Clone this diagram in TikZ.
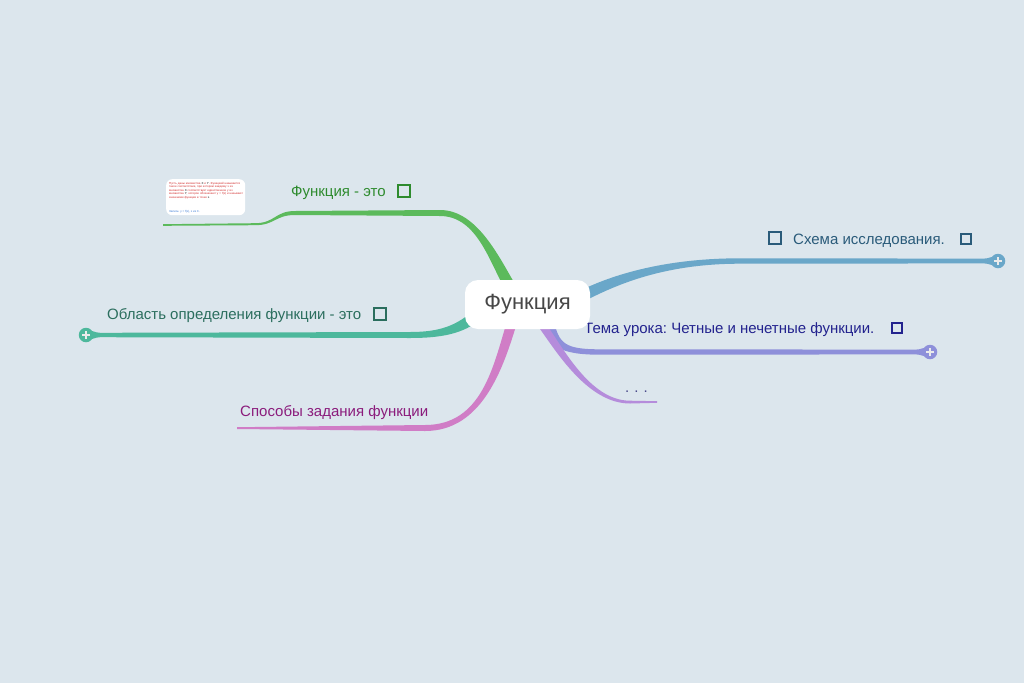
\documentclass[tikz,border=0pt]{standalone}
\usepackage{fontspec}
\setmainfont{Liberation Sans}
\frenchspacing
\definecolor{bg}{HTML}{DCE6ED}
\definecolor{cgreen}{HTML}{5CBA5C}
\definecolor{cteal}{HTML}{4DB89C}
\definecolor{cpink}{HTML}{D07DC6}
\definecolor{cblue}{HTML}{6AA7C9}
\definecolor{cpurple}{HTML}{8E90DA}
\definecolor{cviolet}{HTML}{B58CDB}
\definecolor{tgreen}{HTML}{2E8B2E}
\definecolor{tteal}{HTML}{2B6E5E}
\definecolor{tpink}{HTML}{8B1C7C}
\definecolor{tblue}{HTML}{2A5B7A}
\definecolor{tnavy}{HTML}{23238E}
\definecolor{tdots}{HTML}{4A4A8A}
\definecolor{tred}{HTML}{D32F2F}
\definecolor{tlblue}{HTML}{3A7BD5}
\begin{document}
\begin{tikzpicture}[x=1pt,y=-1pt,
  lbl/.style={anchor=base west, inner sep=0pt, font=\fontsize{15}{17}\selectfont},
  cbox/.style={draw, line width=2.3pt, minimum size=12.5pt, inner sep=0pt},
  sbox/.style={draw, line width=1.6pt, minimum size=10pt, inner sep=0pt},
  plus/.style={circle, minimum size=14.5pt, inner sep=0pt},
  plusmark/.style={white!92!black, line width=1.3pt}
]
\useasboundingbox[fill=bg] (0,0) rectangle (1024,683);

% ---------- branches (tapered fills) ----------
% green
\fill[cgreen] (507,292.6) .. controls (490,264.6) and (478,216) .. (440,216)
  -- (295,215) .. controls (275,215) and (275,225.2) .. (255,225.2) -- (163,225.8)
  -- (163,224.2) -- (255,223.2) .. controls (275,223.2) and (275,211) .. (295,211)
  -- (440,210) .. controls (478,210) and (500,259.4) .. (517,287.4) -- cycle;
% teal
\fill[cteal] (481.6,318.3) .. controls (463.6,334.3) and (440,338) .. (410,338)
  -- (100,337.2) .. controls (95,337.2) and (92,340) .. (86,340)
  -- (86,330) .. controls (92,330) and (95,332.8) .. (100,332.8)
  -- (410,332) .. controls (440,332) and (456.4,325.7) .. (474.4,309.7) -- cycle;
% pink
\fill[cpink] (516.8,323.4) .. controls (502.8,369.4) and (482,431) .. (425,431)
  -- (237,429) -- (237,427.2) -- (425,425) .. controls (482,425) and (493.2,366.6) .. (507.2,320.6) -- cycle;
% blue
\fill[cblue] (579.5,291) .. controls (607.5,277) and (660,258.3) .. (740,258.3)
  -- (984,258.6) .. controls (989,258.6) and (992,256) .. (998,256)
  -- (998,266) .. controls (992,266) and (989,263.4) .. (984,263.4)
  -- (740,263.7) .. controls (660,263.7) and (612.5,287) .. (584.5,301) -- cycle;
% purple
\fill[cpurple] (553.9,320.7) .. controls (558.9,343.7) and (565,349.3) .. (600,349.3)
  -- (916,349.6) .. controls (921,349.6) and (924,347) .. (930,347)
  -- (930,357) .. controls (924,357) and (921,354.4) .. (916,354.4)
  -- (600,354.7) .. controls (560,354.7) and (547.1,346.3) .. (542.1,323.3) -- cycle;
% violet
\fill[cviolet] (545.2,322.7) .. controls (563.2,347.7) and (590,400.7) .. (630,400.7)
  -- (657,401.2) -- (657,402.8) -- (630,403.5) .. controls (588,403.5) and (556.8,352.3) .. (538.8,327.3) -- cycle;

% ---------- expand buttons ----------
\node[plus, fill=cteal] (pteal) at (86,335) {};
\draw[plusmark] ([xshift=-3.6pt]pteal.center) -- ([xshift=3.6pt]pteal.center)
  ([yshift=-3.6pt]pteal.center) -- ([yshift=3.6pt]pteal.center);
\node[plus, fill=cblue] (pblue) at (998,261) {};
\draw[plusmark] ([xshift=-3.6pt]pblue.center) -- ([xshift=3.6pt]pblue.center)
  ([yshift=-3.6pt]pblue.center) -- ([yshift=3.6pt]pblue.center);
\node[plus, fill=cpurple] (ppurple) at (930,352) {};
\draw[plusmark] ([xshift=-3.6pt]ppurple.center) -- ([xshift=3.6pt]ppurple.center)
  ([yshift=-3.6pt]ppurple.center) -- ([yshift=3.6pt]ppurple.center);

% ---------- note box ----------
\node[fill=white, rounded corners=6pt, minimum width=79pt, minimum height=36pt, anchor=north west, inner sep=0pt] (note) at (166,179) {};
\node[anchor=north west, text width=74pt, inner sep=0pt, align=left, text=tred,
  font=\fontsize{2.9}{3.5}\selectfont] (notetext) at (169,182)
  {Пусть даны множества \textcolor{black}{X} и \textcolor{black}{Y}. Функцией называется такое соответствие, при котором каждому x из множества \textcolor{black}{X} соответствует единственное y из множества \textcolor{black}{Y}, которое обозначают y = f(x) и называют значением функции в точке \textcolor{black}{x}.};
\node[anchor=north west, inner sep=0pt, text=tlblue, font=\fontsize{2.9}{3.5}\selectfont] (notelink) at (169,210.5) {Запись: y = f(x), x из X.};

% ---------- labels ----------
\node[lbl, text=tgreen] (l1) at (291,196.5) {Функция - это};
\node[cbox, draw=tgreen] (b1) at (404,191) {};
\node[lbl, text=tteal] (l2) at (107,319.5) {Область определения функции - это};
\node[cbox, draw=tteal] (b2) at (380,314) {};
\node[lbl, text=tpink] (l3) at (240,416.5) {Способы задания функции};
\node[cbox, draw=tblue] (b4a) at (775,238) {};
\node[lbl, text=tblue] (l4) at (793,244.5) {Схема исследования.};
\node[sbox, draw=tblue] (b4b) at (966,239) {};
\node[lbl, text=tnavy] (l5) at (584,333.5) {Тема урока: Четные и нечетные функции.};
\node[sbox, draw=tnavy] (b5) at (897,328) {};
\node[lbl, text=tdots] (l6) at (625,392) {.\,\,.\,\,.};

% ---------- central node ----------
\node[fill=white, rounded corners=13pt, minimum width=125pt, minimum height=49pt, inner sep=0pt,
  text=black!72, font=\fontsize{22}{25}\selectfont] (root) at (527.5,304.5) {Функция};
\end{tikzpicture}
\end{document}
